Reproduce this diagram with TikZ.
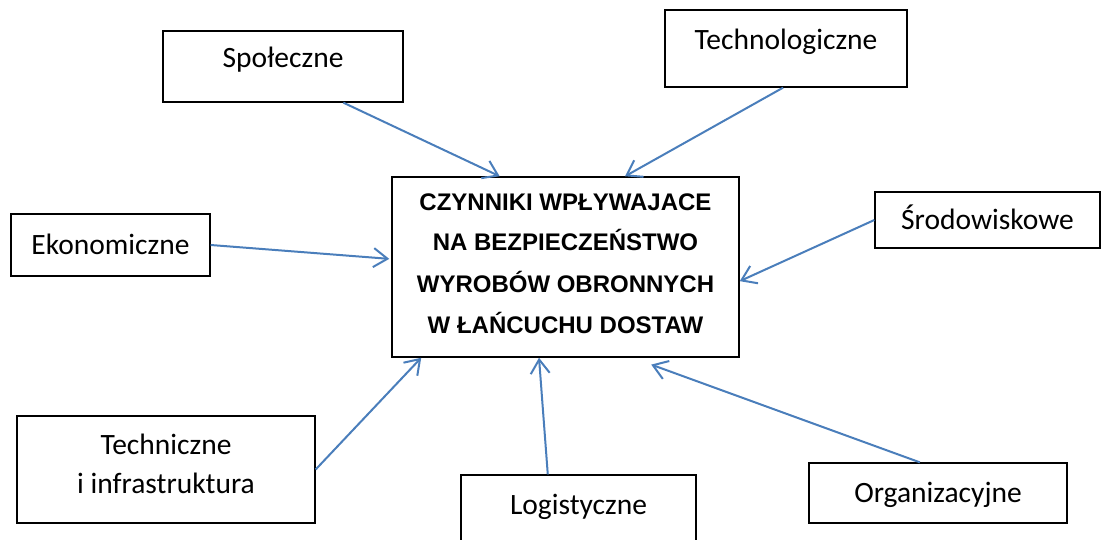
\documentclass[tikz,border=0pt]{standalone}
\usepackage{fontspec}
\setmainfont{Carlito}
\newfontfamily\headfont{Liberation Sans}
\usetikzlibrary{arrows.meta,calc}
\definecolor{arrowblue}{HTML}{4A7EBB}
\tikzset{
  factor/.style={draw=black, line width=1.3pt, inner sep=0pt, fill=white,
    font=\fontsize{29.5}{39}\selectfont, align=center, text height=19pt, text depth=0pt},
  central/.style={draw=black, line width=1.5pt, inner sep=0pt, fill=white,
    font=\headfont\bfseries\fontsize{24}{41}\selectfont, align=center,
    minimum width=347pt, minimum height=180pt, text height=140pt, text depth=8pt},
  link/.style={draw=arrowblue, line width=2pt,
    -{Straight Barb[length=14pt,width=19pt,line width=2pt]}}
}
\begin{document}
\begin{tikzpicture}[x=1pt,y=-1pt]
\useasboundingbox (0,0) rectangle (1101,540);
\node[central] (cz) at (565.5,267) {CZYNNIKI WPŁYWAJACE\\NA BEZPIECZEŃSTWO\\WYROBÓW OBRONNYCH\\W ŁAŃCUCHU DOSTAW};
\node[factor, minimum width=240pt, minimum height=71pt, text depth=17pt] (spo) at (283,66.5) {Społeczne};
\node[factor, minimum width=242pt, minimum height=77pt, text depth=17pt] (tech) at (786,48.5) {Technologiczne};
\node[factor, minimum width=199pt, minimum height=62pt] (eko) at (110.5,245) {Ekonomiczne};
\node[factor, minimum width=225pt, minimum height=56pt] (sro) at (987.5,220) {Środowiskowe};
\node[factor, minimum width=298pt, minimum height=107pt, text height=58pt, text depth=10pt] (techn) at (166,469.5) {Techniczne\\i infrastruktura};
\node[factor, minimum width=235pt, minimum height=100pt, text depth=41pt] (log) at (578.5,525) {Logistyczne};
\node[factor, minimum width=258pt, minimum height=60pt] (org) at (938,493) {Organizacyjne};

\draw[link] ($(spo.south west)!0.75!(spo.south east)$) -- ($(cz.north west)!0.311!(cz.north east)$);
\draw[link] ($(tech.south west)!0.488!(tech.south east)$) -- ($(cz.north west)!0.671!(cz.north east)$);
\draw[link, shorten >=2pt] (eko.east) -- ($(cz.north west)!0.456!(cz.south west)$);
\draw[link] (sro.west) -- ($(cz.north east)!0.578!(cz.south east)$);
\draw[link] (techn.east) -- ($(cz.south west)!0.086!(cz.south east)$);
\draw[link] ($(log.north west)!0.37!(log.north east)$) -- ($(cz.south west)!0.424!(cz.south east)$);
\draw[link, shorten >=20pt] ($(org.north west)!0.43!(org.north east)$) -- ($(cz.south west)!0.692!(cz.south east)$);
\end{tikzpicture}
\end{document}
